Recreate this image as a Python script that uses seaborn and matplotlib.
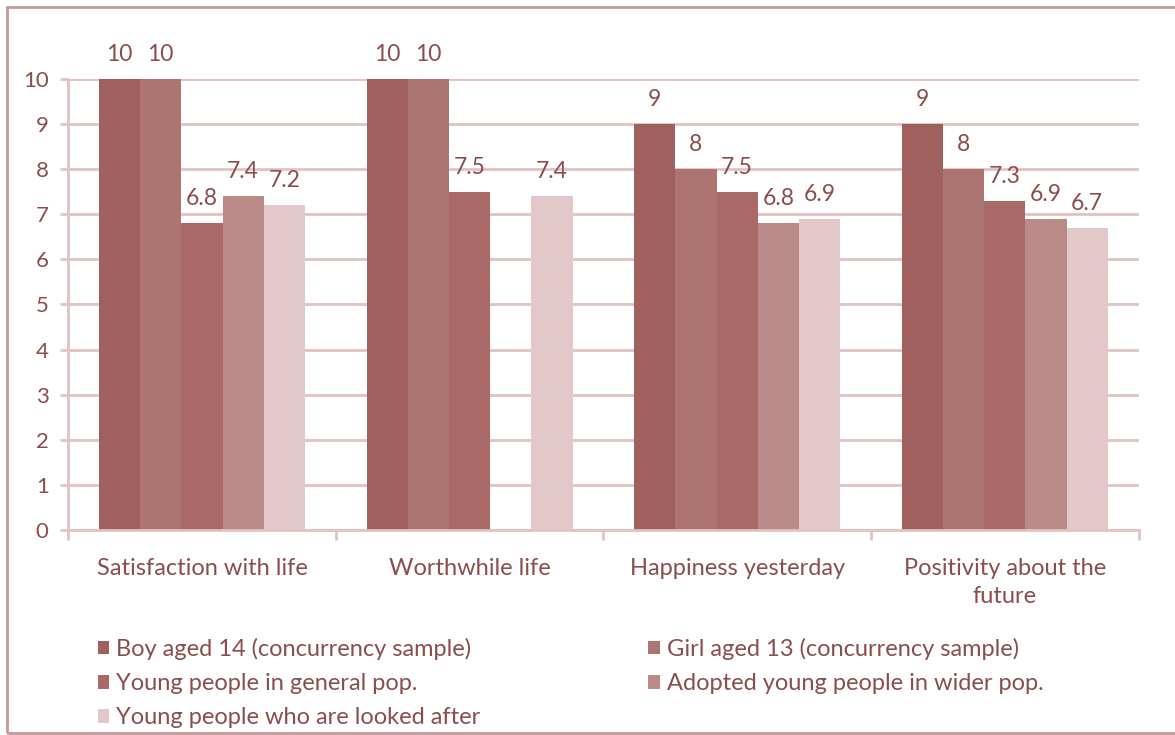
import numpy as np
import pandas as pd
import seaborn as sns
import matplotlib.pyplot as plt
from matplotlib.patches import Rectangle

# dados
categories = ['Satisfaction with life', 'Worthwhile life', 'Happiness yesterday', 'Positivity about the\nfuture']
series = ['Boy aged 14 (concurrency sample)', 'Girl aged 13 (concurrency sample)',
          'Young people in general pop.', 'Adopted young people in wider pop.',
          'Young people who are looked after']
boy = [10, 10, 9, 9]
girl = [10, 10, 8, 8]
general = [6.8, 7.5, 7.5, 7.3]
adopted = [7.4, np.nan, 6.8, 6.9]
looked_after = [7.2, 7.4, 6.9, 6.7]
colors = ['#A0605D', '#AE7471', '#A96A67', '#BA8A88', '#E2C8C8']

text_color = '#8A4E4C'
grid_color = '#E2C2C2'

rows = []
for s, vals in zip(series, [boy, girl, general, adopted, looked_after]):
    for c, v in zip(categories, vals):
        rows.append({'Category': c, 'Series': s, 'Value': v})
df = pd.DataFrame(rows)

sns.set_style('white')
plt.rcParams['font.family'] = ['Lato', 'DejaVu Sans']

fig = plt.figure(figsize=(11.75, 7.35), dpi=100)
ax = fig.add_axes([0.058, 0.279, 0.911, 0.6135])

sns.barplot(data=df, x='Category', y='Value', hue='Series', order=categories,
            hue_order=series, palette=colors, width=0.77, saturation=1,
            linewidth=0, ax=ax, legend=True)

for cont in ax.containers:
    labels = ['' if np.isnan(v) else f'{v:g}' for v in cont.datavalues]
    ax.bar_label(cont, labels=labels, padding=10, fontsize=16.5, color=text_color)

ax.set_ylim(0, 10)
ax.set_xlim(-0.5, 3.5)
ax.set_yticks(range(0, 11))
ax.yaxis.grid(True, color=grid_color, linewidth=2)
ax.set_axisbelow(True)
ax.set_xlabel('')
ax.set_ylabel('')
for side in ['top', 'right']:
    ax.spines[side].set_visible(False)
for side in ['left', 'bottom']:
    ax.spines[side].set_color(grid_color)
    ax.spines[side].set_linewidth(2)
ax.tick_params(axis='y', colors=text_color, labelsize=16, length=6, width=2,
               color=grid_color, left=True, pad=8)
ax.tick_params(axis='x', colors=text_color, labelsize=17, length=0, pad=20)
ax.set_xticks([i - 0.5 for i in range(5)], minor=True)
ax.tick_params(axis='x', which='minor', length=7, width=2, color=grid_color, bottom=True)
for t in ax.get_xticklabels():
    t.set_linespacing(1.45)

# legenda por linhas
handles, labs = ax.get_legend_handles_labels()
ax.legend_.remove()
order = [0, 2, 4, 1, 3]
fig.legend([handles[i] for i in order], [labs[i] for i in order],
           loc='upper left', bbox_to_anchor=(0.075, 0.145), ncol=2,
           frameon=False, fontsize=17, labelcolor=text_color, handlelength=0.5,
           handleheight=0.5, handletextpad=0.3, columnspacing=7.1, labelspacing=0.56,
           borderaxespad=0)

fig.patches.append(Rectangle((0.006, 0.003), 1.2, 0.988, transform=fig.transFigure,
                             fill=False, edgecolor='#C89898', linewidth=2))

plt.savefig('out.png', dpi=100, facecolor='white')
plt.close()
